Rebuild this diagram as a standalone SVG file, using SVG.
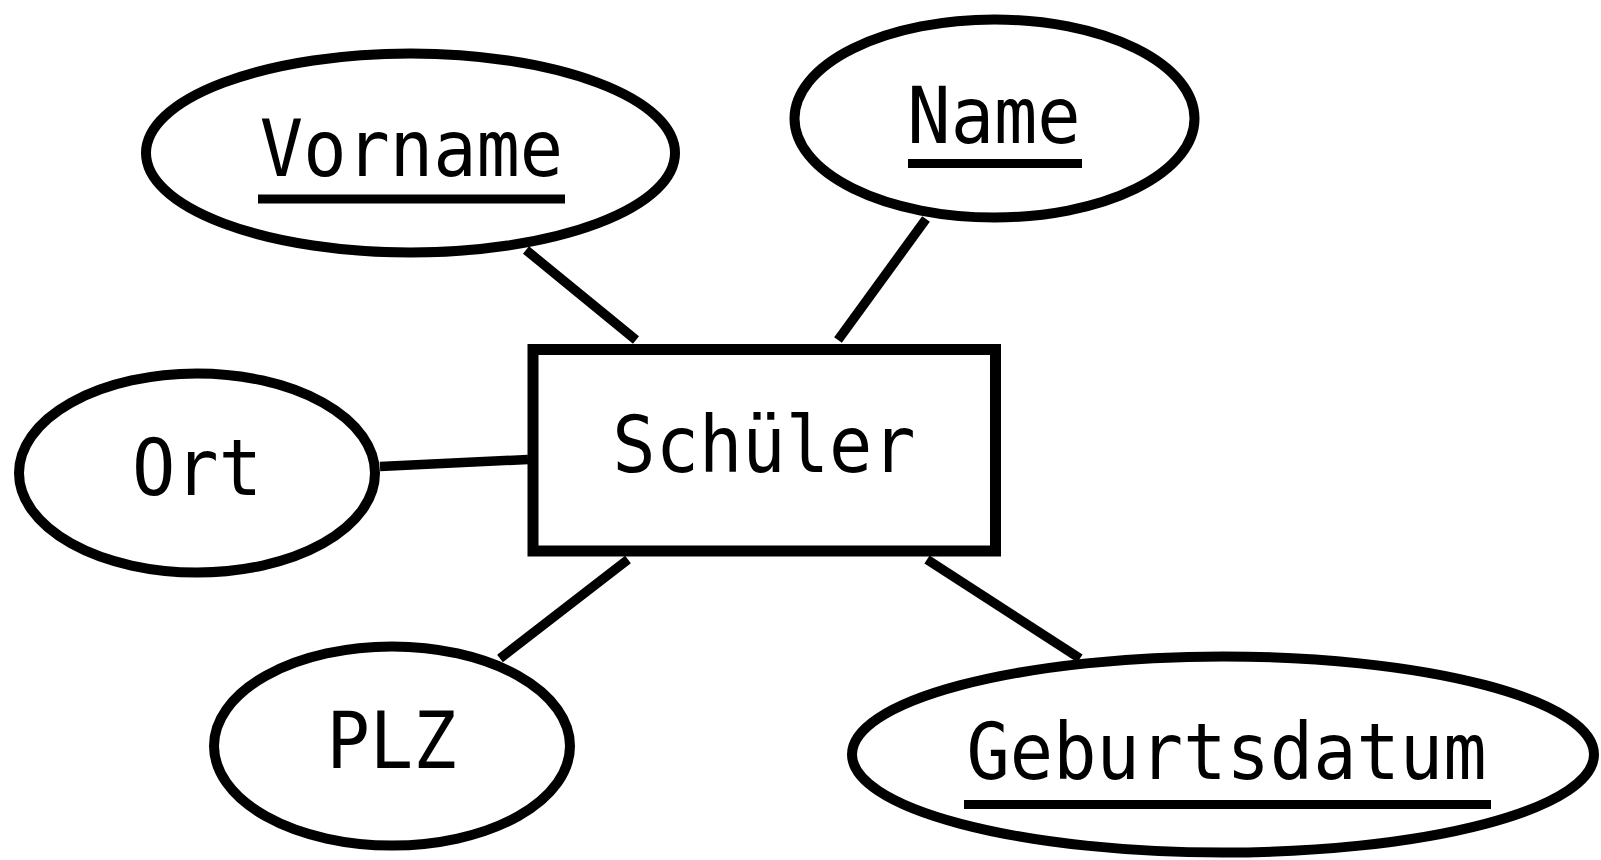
<svg xmlns="http://www.w3.org/2000/svg" width="1601" height="860" viewBox="0 0 1601 860">
  <style>
    .shape { fill: #ffffff; stroke: #000000; stroke-width: 10; }
    .entity { fill: #ffffff; stroke: #000000; stroke-width: 11; }
    .edge { stroke: #000000; stroke-width: 9.5; fill: none; }
    .ul { stroke: #000000; stroke-width: 9; }
    .label { font-family: "DejaVu Sans Mono", "Liberation Mono", monospace; font-size: 72px; fill: #000000; text-anchor: middle; }
  </style>
  <rect x="0" y="0" width="1601" height="860" fill="#ffffff"/>
  <g id="connectors">
    <line class="edge" x1="526" y1="250" x2="636" y2="340"/>
    <line class="edge" x1="926" y1="219" x2="838" y2="340"/>
    <line class="edge" x1="380" y1="466.5" x2="528" y2="459.5"/>
    <line class="edge" x1="500" y1="658.5" x2="628" y2="559.5"/>
    <line class="edge" x1="927" y1="559.5" x2="1080" y2="658.5"/>
  </g>
  <g id="node-schueler">
    <rect class="entity" x="533" y="349.5" width="462.5" height="201.5"/>
    <text class="label" transform="translate(764,471.5) scale(1,1.1)">Schüler</text>
  </g>
  <g id="node-vorname">
    <ellipse class="shape" cx="410.5" cy="153" rx="264.5" ry="99.5"/>
    <text class="label" transform="translate(411.5,175.5) scale(1,1.1)">Vorname</text>
    <line class="ul" x1="258" y1="199" x2="565" y2="199"/>
  </g>
  <g id="node-name">
    <ellipse class="shape" cx="994.5" cy="118.5" rx="200" ry="99"/>
    <text class="label" transform="translate(994,143) scale(1,1.1)">Name</text>
    <line class="ul" x1="908" y1="163.5" x2="1082" y2="163.5"/>
  </g>
  <g id="node-ort">
    <ellipse class="shape" cx="197" cy="473" rx="178" ry="99.5"/>
    <text class="label" transform="translate(197,495) scale(1,1.1)">Ort</text>
  </g>
  <g id="node-plz">
    <ellipse class="shape" cx="392" cy="746" rx="178" ry="99.5"/>
    <text class="label" transform="translate(391.5,768) scale(1,1.1)">PLZ</text>
  </g>
  <g id="node-geburtsdatum">
    <ellipse class="shape" cx="1223" cy="754.5" rx="371" ry="98"/>
    <text class="label" transform="translate(1226.5,779) scale(1,1.1)">Geburtsdatum</text>
    <line class="ul" x1="964" y1="804.5" x2="1491" y2="804.5"/>
  </g>
</svg>
